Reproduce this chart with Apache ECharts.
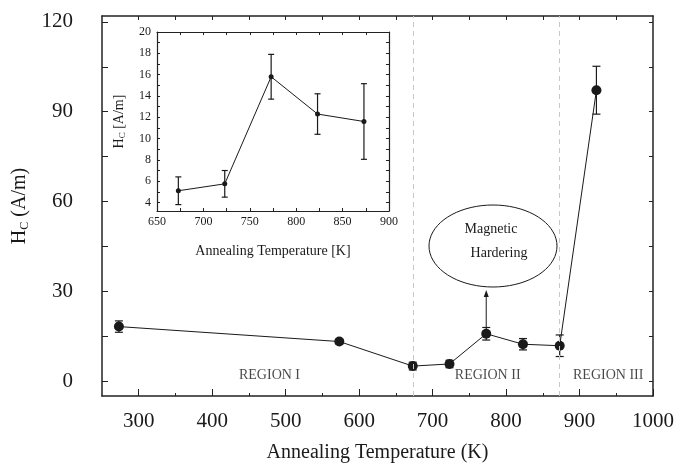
<!DOCTYPE html>
<html>
<head>
<meta charset="utf-8">
<script src="https://cdn.jsdelivr.net/npm/echarts@6/dist/echarts.min.js"></script>
<style>
  html, body { margin: 0; padding: 0; background: #fff; }
  #chart { width: 692px; height: 468px; }
</style>
</head>
<body>
<div id="chart"></div>
<script>
// main plot data
const mainTemps = [273, 573, 673, 723, 773, 823, 873, 923];
const mainHc = [18.2, 13.2, 5.0, 5.7, 15.8, 12.3, 11.8, 97.2];
const mainErr = [1.9, 0.8, 1.3, 1.25, 2.1, 1.9, 3.6, 8.0];
const mainXTicks = [300, 400, 500, 600, 700, 800, 900, 1000];
const mainYTicks = [0, 30, 60, 90, 120];
const regionBounds = [673, 873];
const regionNames = ['REGION I', 'REGION II', 'REGION III'];
const regionPos = [[478, 2], [775, 2], [939, 2]];

// inset data
const insetTemps = [673, 723, 773, 823, 873];
const insetHc = [5.1, 5.75, 15.8, 12.3, 11.6];
const insetErr = [1.3, 1.25, 2.1, 1.9, 3.55];
const insetXTicks = [650, 700, 750, 800, 850, 900];
const insetYTicks = [4, 6, 8, 10, 12, 14, 16, 18, 20];

const FONT = 'Liberation Serif';
const INK = '#1a1a1a';

function range(a, b, step) {
    const out = [];
    for (let v = a; v <= b + 1e-9; v += step) out.push(v);
    return out;
}

function errRender(capW) {
    return function (params, api) {
        const x = api.value(0);
        const top = api.coord([x, api.value(2)]);
        const bot = api.coord([x, api.value(1)]);
        const st = { stroke: INK, lineWidth: 1.2 };
        return {
            type: 'group',
            children: [
                { type: 'line', shape: { x1: top[0], y1: top[1], x2: bot[0], y2: bot[1] }, style: st },
                { type: 'line', shape: { x1: top[0] - capW, y1: top[1], x2: top[0] + capW, y2: top[1] }, style: st },
                { type: 'line', shape: { x1: bot[0] - capW, y1: bot[1], x2: bot[0] + capW, y2: bot[1] }, style: st }
            ]
        };
    };
}

const plain = v => String(v);
const axisLine = { show: true, onZero: false, lineStyle: { color: '#222', width: 1.5 } };
const noLabel = { show: false };

const chart = echarts.init(document.getElementById('chart'), null, { renderer: 'canvas' });

const option = {
    backgroundColor: '#fff',
    animation: false,
    grid: [
        { left: 102, right: 39, top: 16, bottom: 70 },
        { left: 157, right: 303, top: 32, bottom: 257 }
    ],
    xAxis: [
        {
            gridIndex: 0, type: 'value', min: 250, max: 1000, position: 'bottom',
            axisLine: axisLine,
            axisTick: { show: true, inside: true, length: 7, customValues: mainXTicks, lineStyle: { color: '#222' } },
            axisLabel: { customValues: mainXTicks, formatter: plain, fontFamily: FONT, fontSize: 21, color: INK, margin: 15 },
            splitLine: { show: false },
            name: 'Annealing Temperature (K)', nameLocation: 'middle', nameGap: 47,
            nameTextStyle: { fontFamily: FONT, fontSize: 20, color: INK }
        },
        {
            gridIndex: 0, type: 'value', min: 250, max: 1000, position: 'bottom',
            axisLine: { show: false, onZero: false },
            axisTick: { show: true, inside: true, length: 3, customValues: range(350, 950, 100), lineStyle: { color: '#222' } },
            axisLabel: noLabel, splitLine: { show: false }
        },
        {
            gridIndex: 0, type: 'value', min: 250, max: 1000, position: 'top',
            axisLine: axisLine,
            axisTick: { show: true, inside: true, length: 4, customValues: range(300, 950, 50), lineStyle: { color: '#222' } },
            axisLabel: noLabel, splitLine: { show: false }
        },
        {
            gridIndex: 1, type: 'value', min: 650, max: 900, position: 'bottom',
            axisLine: { show: true, onZero: false, lineStyle: { color: '#222', width: 1.2 } },
            axisTick: { show: true, inside: true, length: 3, customValues: range(650, 900, 25), lineStyle: { color: '#222' } },
            axisLabel: { customValues: insetXTicks, formatter: plain, fontFamily: FONT, fontSize: 12, color: INK, margin: 5 },
            splitLine: { show: false },
            name: 'Annealing Temperature [K]', nameLocation: 'middle', nameGap: 33,
            nameTextStyle: { fontFamily: FONT, fontSize: 14, color: INK }
        },
        {
            gridIndex: 1, type: 'value', min: 650, max: 900, position: 'top',
            axisLine: { show: true, onZero: false, lineStyle: { color: '#222', width: 1.2 } },
            axisTick: { show: true, inside: true, length: 3, customValues: range(650, 900, 25), lineStyle: { color: '#222' } },
            axisLabel: noLabel, splitLine: { show: false }
        }
    ],
    yAxis: [
        {
            gridIndex: 0, type: 'value', min: -5, max: 122, position: 'left',
            axisLine: axisLine,
            axisTick: { show: true, inside: true, length: 6, customValues: range(0, 120, 15), lineStyle: { color: '#222' } },
            axisLabel: { customValues: mainYTicks, formatter: plain, fontFamily: FONT, fontSize: 21, color: INK, margin: 29 },
            splitLine: { show: false },
            name: 'H{s|C} (A/m)', nameLocation: 'middle', nameGap: 66,
            nameTextStyle: {
                fontFamily: FONT, fontSize: 20, color: INK,
                rich: { s: { fontFamily: FONT, fontSize: 12, color: INK, padding: [10, 0, 0, 0] } }
            }
        },
        {
            gridIndex: 0, type: 'value', min: -5, max: 122, position: 'right',
            axisLine: axisLine,
            axisTick: { show: true, inside: true, length: 4, customValues: range(0, 120, 15), lineStyle: { color: '#222' } },
            axisLabel: noLabel, splitLine: { show: false }
        },
        {
            gridIndex: 1, type: 'value', min: 3.2, max: 20, position: 'left',
            axisLine: { show: true, onZero: false, lineStyle: { color: '#222', width: 1.2 } },
            axisTick: { show: true, inside: true, length: 3, customValues: range(4, 20, 1), lineStyle: { color: '#222' } },
            axisLabel: { customValues: insetYTicks, formatter: plain, fontFamily: FONT, fontSize: 12, color: INK, margin: 6 },
            splitLine: { show: false },
            name: 'H{s|C} [A/m]', nameLocation: 'middle', nameGap: 30,
            nameTextStyle: {
                fontFamily: FONT, fontSize: 14, color: INK,
                rich: { s: { fontFamily: FONT, fontSize: 9, color: INK, padding: [6, 0, 0, 0] } }
            }
        },
        {
            gridIndex: 1, type: 'value', min: 3.2, max: 20, position: 'right',
            axisLine: { show: true, onZero: false, lineStyle: { color: '#222', width: 1.2 } },
            axisTick: { show: true, inside: true, length: 3, customValues: range(4, 20, 1), lineStyle: { color: '#222' } },
            axisLabel: noLabel, splitLine: { show: false }
        }
    ],
    series: [
        {
            type: 'line', xAxisIndex: 0, yAxisIndex: 0,
            data: mainTemps.map((t, i) => [t, mainHc[i]]),
            symbol: 'circle', symbolSize: 10, z: 4,
            itemStyle: { color: INK },
            lineStyle: { color: INK, width: 1 },
            markLine: {
                silent: true, symbol: 'none', label: { show: false },
                lineStyle: { color: '#c8c8c8', type: [5, 4], width: 1 },
                data: regionBounds.map(v => ({ xAxis: v }))
            }
        },
        {
            type: 'custom', xAxisIndex: 0, yAxisIndex: 0, z: 3,
            renderItem: errRender(4),
            encode: { x: 0, y: [1, 2] },
            data: mainTemps.map((t, i) => [t, mainHc[i] - mainErr[i], mainHc[i] + mainErr[i]])
        },
        {
            type: 'scatter', xAxisIndex: 0, yAxisIndex: 0, symbolSize: 0, silent: true,
            data: regionPos.map((p, i) => ({ value: p, name: regionNames[i] })),
            label: {
                show: true, position: 'inside', formatter: '{b}',
                fontFamily: FONT, fontSize: 14, color: INK
            }
        },
        {
            type: 'line', xAxisIndex: 3, yAxisIndex: 2,
            data: insetTemps.map((t, i) => [t, insetHc[i]]),
            symbol: 'circle', symbolSize: 5, z: 4,
            itemStyle: { color: INK },
            lineStyle: { color: INK, width: 1 }
        },
        {
            type: 'custom', xAxisIndex: 3, yAxisIndex: 2, z: 3,
            renderItem: errRender(3),
            encode: { x: 0, y: [1, 2] },
            data: insetTemps.map((t, i) => [t, insetHc[i] - insetErr[i], insetHc[i] + insetErr[i]])
        }
    ]
};

chart.setOption(option);

// "Magnetic Hardering" annotation: ellipse with arrow from the 773 K point
const cx = 493, cy = 246, rx = 64, ry = 41;
const ellipsePts = [];
for (let k = 0; k < 72; k++) {
    const a = k / 72 * Math.PI * 2;
    ellipsePts.push([cx + rx * Math.cos(a), cy + ry * Math.sin(a)]);
}
const hi = mainHc[4] + mainErr[4];
const base = chart.convertToPixel({ xAxisIndex: 0, yAxisIndex: 0 }, [mainTemps[4], hi]);
const tipY = cy + ry + 3;

chart.setOption({
    graphic: [
        { type: 'polygon', shape: { points: ellipsePts }, style: { fill: 'none', stroke: INK, lineWidth: 1 }, z: 10 },
        { type: 'text', x: 491, y: 229, style: { text: 'Magnetic', fontFamily: FONT, fontSize: 14, fill: INK, align: 'center', verticalAlign: 'middle' }, z: 10 },
        { type: 'text', x: 499, y: 253, style: { text: 'Hardering', fontFamily: FONT, fontSize: 14, fill: INK, align: 'center', verticalAlign: 'middle' }, z: 10 },
        { type: 'line', shape: { x1: base[0], y1: base[1], x2: base[0], y2: tipY + 4 }, style: { stroke: INK, lineWidth: 1 }, z: 10 },
        { type: 'polygon', shape: { points: [[base[0], tipY], [base[0] - 2.5, tipY + 7], [base[0] + 2.5, tipY + 7]] }, style: { fill: INK }, z: 10 }
    ]
});
</script>
</body>
</html>
